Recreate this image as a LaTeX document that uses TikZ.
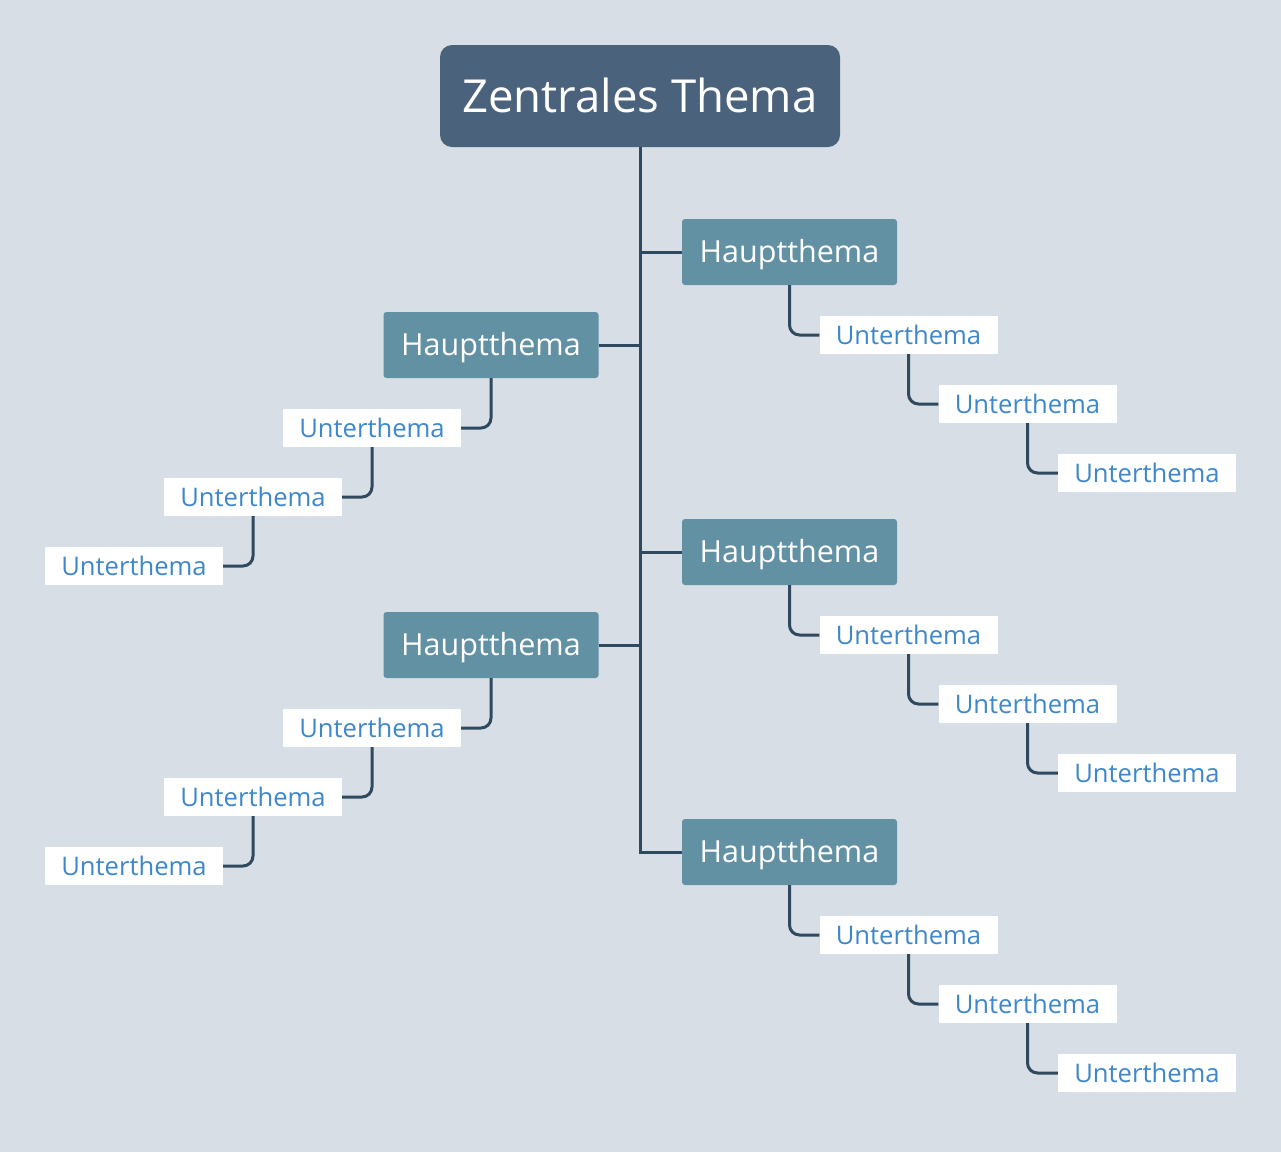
\documentclass[tikz,border=0pt]{standalone}
\usepackage{fontspec}
\setmainfont{Open Sans}
\definecolor{bgc}{HTML}{D8DEE5}
\definecolor{centc}{HTML}{4A627C}
\definecolor{mainc}{HTML}{6291A4}
\definecolor{linec}{HTML}{2F4A5F}
\definecolor{subtxt}{HTML}{3E87CA}
\begin{document}
\begin{tikzpicture}[x=1pt,y=-1pt,
  centbox/.style={fill=centc, text=white, rounded corners=12pt, minimum width=400pt, minimum height=102pt, inner sep=0pt, text height=32.5pt, text depth=0pt, font=\fontsize{45.5}{50}\selectfont},
  mainbox/.style={fill=mainc, text=white, rounded corners=3pt, minimum width=215pt, minimum height=66pt, inner sep=0pt, text height=21.8pt, text depth=0pt, font=\fontsize{30.5}{34}\selectfont},
  subbox/.style={fill=white, text=subtxt, minimum width=178pt, minimum height=38pt, inner sep=0pt, text height=18.3pt, text depth=0pt, font=\fontsize{25.6}{29}\selectfont},
  conn/.style={draw=linec, line width=3pt},
  rconn/.style={conn, rounded corners=10pt}
]
\fill[bgc] (0,0) rectangle (1281,1152);
\useasboundingbox (0,0) rectangle (1281,1152);

\node[centbox] (c) at (640,96) {Zentrales Thema};

% right main topics
\node[mainbox] (r1) at (789.5,252) {Hauptthema};
\node[mainbox] (r2) at (789.5,552) {Hauptthema};
\node[mainbox] (r3) at (789.5,852) {Hauptthema};
% left main topics
\node[mainbox] (l1) at (491,345) {Hauptthema};
\node[mainbox] (l2) at (491,645) {Hauptthema};

% right subtopics
\node[subbox] (r1a) at (908.5,335) {Unterthema};
\node[subbox] (r1b) at (1027.5,404) {Unterthema};
\node[subbox] (r1c) at (1147,473) {Unterthema};
\node[subbox] (r2a) at (908.5,635) {Unterthema};
\node[subbox] (r2b) at (1027.5,704) {Unterthema};
\node[subbox] (r2c) at (1147,773) {Unterthema};
\node[subbox] (r3a) at (908.5,935) {Unterthema};
\node[subbox] (r3b) at (1027.5,1004) {Unterthema};
\node[subbox] (r3c) at (1147,1073) {Unterthema};
% left subtopics
\node[subbox] (l1a) at (372,428) {Unterthema};
\node[subbox] (l1b) at (253,497) {Unterthema};
\node[subbox] (l1c) at (134,566) {Unterthema};
\node[subbox] (l2a) at (372,728) {Unterthema};
\node[subbox] (l2b) at (253,797) {Unterthema};
\node[subbox] (l2c) at (134,866) {Unterthema};

% trunk
\draw[conn] (c.south) |- (r3.west);
\draw[conn] (r1.west) -- (r1.west -| c.south);
\draw[conn] (r2.west) -- (r2.west -| c.south);
\draw[conn] (l1.east) -- (l1.east -| c.south);
\draw[conn] (l2.east) -- (l2.east -| c.south);

% right chains
\draw[rconn] (r1.south) |- (r1a.west);
\draw[rconn] (r1a.south) |- (r1b.west);
\draw[rconn] (r1b.south) |- (r1c.west);
\draw[rconn] (r2.south) |- (r2a.west);
\draw[rconn] (r2a.south) |- (r2b.west);
\draw[rconn] (r2b.south) |- (r2c.west);
\draw[rconn] (r3.south) |- (r3a.west);
\draw[rconn] (r3a.south) |- (r3b.west);
\draw[rconn] (r3b.south) |- (r3c.west);
% left chains
\draw[rconn] (l1.south) |- (l1a.east);
\draw[rconn] (l1a.south) |- (l1b.east);
\draw[rconn] (l1b.south) |- (l1c.east);
\draw[rconn] (l2.south) |- (l2a.east);
\draw[rconn] (l2a.south) |- (l2b.east);
\draw[rconn] (l2b.south) |- (l2c.east);
\end{tikzpicture}
\end{document}
